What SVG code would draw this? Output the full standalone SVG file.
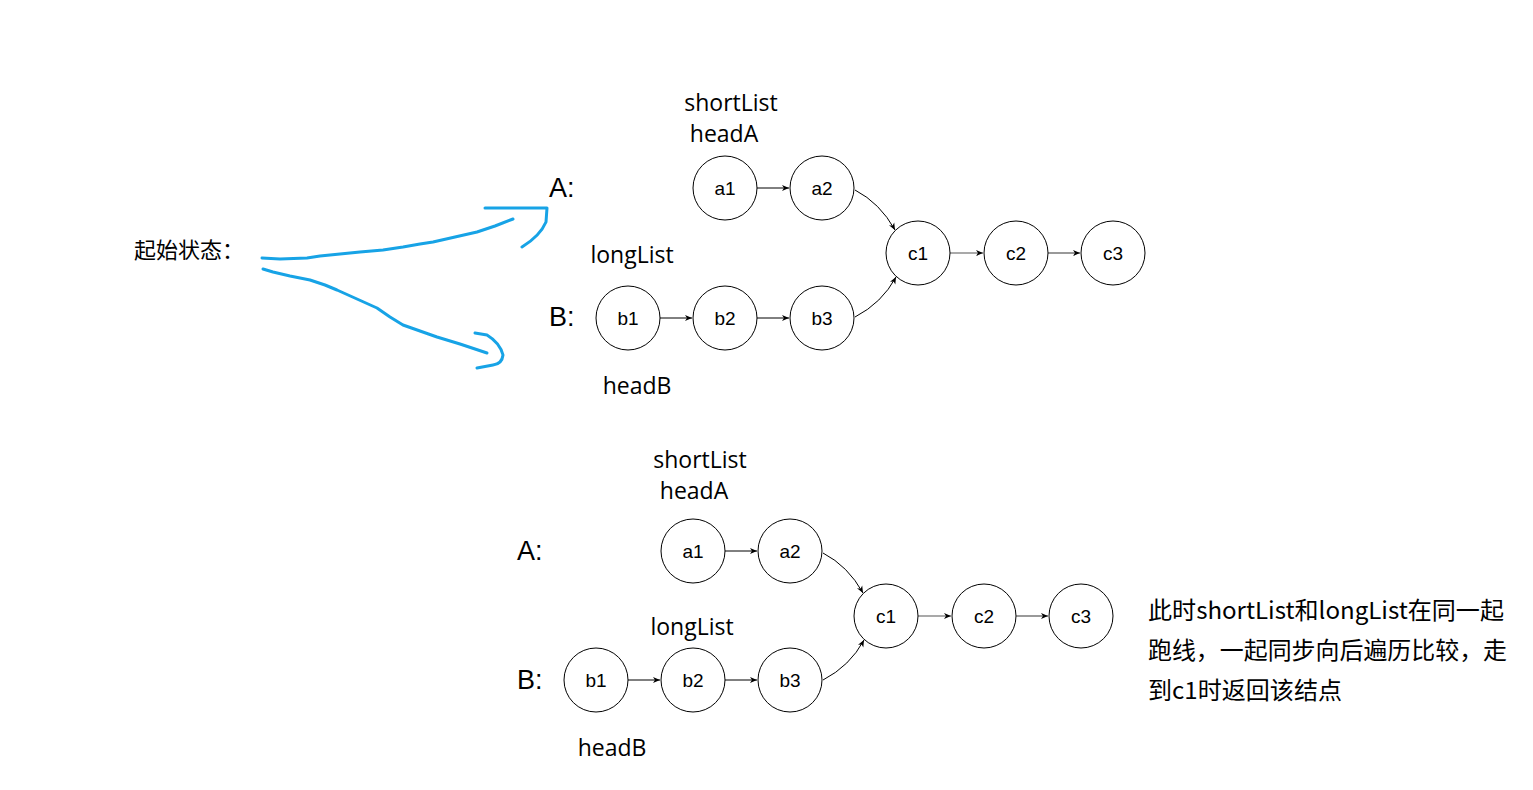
<svg xmlns="http://www.w3.org/2000/svg" width="1533" height="790" viewBox="0 0 1533 790">
<style>
.n{fill:#fff;stroke:#000;stroke-width:1}
.nt{font-family:"Liberation Sans",Arial,sans-serif;font-size:19px;fill:#000;text-anchor:middle;dominant-baseline:central}
.lb{font-family:"Open Sans","Noto Sans CJK SC",sans-serif;font-size:23px;fill:#000}
.ab{font-family:"Liberation Sans",Arial,sans-serif;font-size:27px;fill:#000}
.cn{font-family:"Noto Sans CJK SC","Noto Sans",sans-serif;font-size:22px;fill:#000}
.cn2{font-family:"Noto Sans CJK SC","Noto Sans",sans-serif;font-size:23.5px;fill:#000}
.e{fill:none;stroke:#000;stroke-width:1}
.eg{fill:none;stroke:#555;stroke-width:1.2}
.bl{fill:none;stroke:#17a3e6;stroke-width:3;stroke-linecap:round;stroke-linejoin:round}
</style>
<defs>
<marker id="ar" markerWidth="8" markerHeight="8" refX="7" refY="4" orient="auto" markerUnits="userSpaceOnUse">
<path d="M0,1 L7,4 L0,7 L2,4 Z" fill="#000"/>
</marker>
</defs>
<rect width="1533" height="790" fill="#fff"/>

<g id="hand">
<text class="cn" x="134" y="258">起始状态：</text>
<path class="bl" d="M262,258 L280,259 L307,258 L320,256 L340,254 L360,252 L383,250 L403,247 L420,244 L433,242 L455,237 L477,232 L495,226 L513,219"/>
<path class="bl" d="M485,208 L547,208 L546,222 Q540,236 522,247"/>
<path class="bl" d="M263,269 L273,272 L290,276 L310,280 L325,285 L337,290 L357,299 L377,308 L390,317 L403,325 L420,331 L437,337 L460,344 L487,353"/>
<path class="bl" d="M475,333 L487,335 Q500,343 503,355 Q502,364 493,365 L477,368"/>
</g>

<g id="connectors">
<line class="e" x1="757" y1="188" x2="789" y2="188" marker-end="url(#ar)"/>
<path class="e" d="M855,190 Q880,203 895,230" marker-end="url(#ar)"/>
<path class="e" d="M855,317 Q882,303 896,277" marker-end="url(#ar)"/>
<line class="e" x1="660" y1="318" x2="692" y2="318" marker-end="url(#ar)"/>
<line class="e" x1="757" y1="318" x2="789" y2="318" marker-end="url(#ar)"/>
<line class="eg" x1="950" y1="253" x2="983" y2="253" marker-end="url(#ar)"/>
<line class="eg" x1="1048" y1="253" x2="1080" y2="253" marker-end="url(#ar)"/>

<line class="e" x1="725" y1="551" x2="757" y2="551" marker-end="url(#ar)"/>
<path class="e" d="M823,553 Q848,566 863,593" marker-end="url(#ar)"/>
<path class="e" d="M823,680 Q850,666 864,640" marker-end="url(#ar)"/>
<line class="e" x1="628" y1="680" x2="660" y2="680" marker-end="url(#ar)"/>
<line class="e" x1="725" y1="680" x2="757" y2="680" marker-end="url(#ar)"/>
<line class="eg" x1="918" y1="616" x2="951" y2="616" marker-end="url(#ar)"/>
<line class="eg" x1="1016" y1="616" x2="1048" y2="616" marker-end="url(#ar)"/>
</g>

<g id="top-labels">
<text class="ab" x="549" y="197">A:</text>
<text class="ab" x="549" y="326">B:</text>
<text class="lb" x="731" y="111" text-anchor="middle">shortList</text>
<text class="lb" x="724" y="142" text-anchor="middle">headA</text>
<text class="lb" x="632" y="263" text-anchor="middle">longList</text>
<text class="lb" x="637" y="394" text-anchor="middle">headB</text>
</g>

<g id="top-a1"><circle class="n" cx="725" cy="188" r="32"/><text class="nt" x="725" y="188">a1</text></g>
<g id="top-a2"><circle class="n" cx="822" cy="188" r="32"/><text class="nt" x="822" y="188">a2</text></g>
<g id="top-c1"><circle class="n" cx="918" cy="253" r="32"/><text class="nt" x="918" y="253">c1</text></g>
<g id="top-c2"><circle class="n" cx="1016" cy="253" r="32"/><text class="nt" x="1016" y="253">c2</text></g>
<g id="top-c3"><circle class="n" cx="1113" cy="253" r="32"/><text class="nt" x="1113" y="253">c3</text></g>
<g id="top-b1"><circle class="n" cx="628" cy="318" r="32"/><text class="nt" x="628" y="318">b1</text></g>
<g id="top-b2"><circle class="n" cx="725" cy="318" r="32"/><text class="nt" x="725" y="318">b2</text></g>
<g id="top-b3"><circle class="n" cx="822" cy="318" r="32"/><text class="nt" x="822" y="318">b3</text></g>

<g id="bottom-labels">
<text class="ab" x="517" y="560">A:</text>
<text class="ab" x="517" y="689">B:</text>
<text class="lb" x="700" y="468" text-anchor="middle">shortList</text>
<text class="lb" x="694" y="499" text-anchor="middle">headA</text>
<text class="lb" x="692" y="635" text-anchor="middle">longList</text>
<text class="lb" x="612" y="756" text-anchor="middle">headB</text>
</g>

<g id="bot-a1"><circle class="n" cx="693" cy="551" r="32"/><text class="nt" x="693" y="551">a1</text></g>
<g id="bot-a2"><circle class="n" cx="790" cy="551" r="32"/><text class="nt" x="790" y="551">a2</text></g>
<g id="bot-c1"><circle class="n" cx="886" cy="616" r="32"/><text class="nt" x="886" y="616">c1</text></g>
<g id="bot-c2"><circle class="n" cx="984" cy="616" r="32"/><text class="nt" x="984" y="616">c2</text></g>
<g id="bot-c3"><circle class="n" cx="1081" cy="616" r="32"/><text class="nt" x="1081" y="616">c3</text></g>
<g id="bot-b1"><circle class="n" cx="596" cy="680" r="32"/><text class="nt" x="596" y="680">b1</text></g>
<g id="bot-b2"><circle class="n" cx="693" cy="680" r="32"/><text class="nt" x="693" y="680">b2</text></g>
<g id="bot-b3"><circle class="n" cx="790" cy="680" r="32"/><text class="nt" x="790" y="680">b3</text></g>

<g id="note">
<text class="cn2" x="1148" y="619" textLength="356" lengthAdjust="spacingAndGlyphs">此时shortList和longList在同一起</text>
<text class="cn2" x="1148" y="659" textLength="359" lengthAdjust="spacingAndGlyphs">跑线，一起同步向后遍历比较，走</text>
<text class="cn2" x="1148" y="699" textLength="194" lengthAdjust="spacingAndGlyphs">到c1时返回该结点</text>
</g>
</svg>
